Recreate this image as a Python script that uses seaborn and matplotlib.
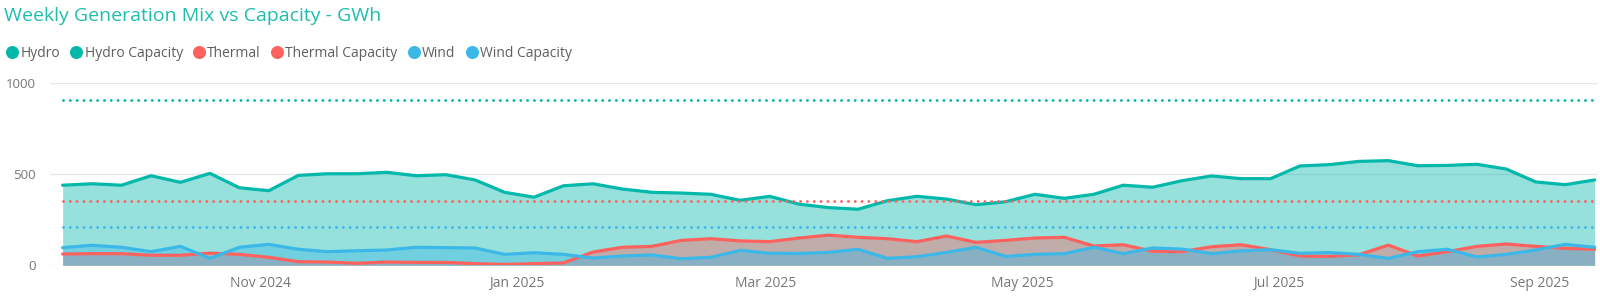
import numpy as np
import pandas as pd
import matplotlib
matplotlib.use("Agg")
import matplotlib.pyplot as plt
import matplotlib.dates as mdates
from matplotlib.lines import Line2D
import seaborn as sns

# ---------------- data ----------------
weeks = pd.date_range("2024-09-15", periods=53, freq="7D")

hydro = [440, 448, 440, 492, 456, 505, 426, 410, 494, 503, 503, 511, 492, 498, 469,
         401, 374, 437, 448, 419, 401, 397, 390, 357, 379, 336, 317, 308, 355, 379,
         364, 333, 349, 390, 368, 390, 440, 429, 465, 491, 476, 476, 546, 553, 571,
         575, 547, 549, 555, 529, 458, 443, 469]
thermal = [62, 64, 64, 55, 55, 67, 60, 44, 20, 18, 11, 18, 16, 16, 9,
           5, 9, 13, 73, 99, 104, 137, 146, 134, 130, 150, 166, 154, 146, 130,
           161, 126, 137, 150, 154, 106, 113, 77, 75, 102, 113, 86, 51, 49, 58,
           111, 51, 75, 104, 117, 104, 93, 88]
wind = [97, 110, 99, 75, 104, 38, 99, 115, 88, 75, 80, 84, 99, 97, 95,
        60, 69, 60, 40, 51, 57, 36, 44, 82, 66, 65, 71, 88, 38, 47,
        71, 99, 49, 60, 64, 99, 64, 95, 89, 64, 79, 86, 66, 70, 60,
        38, 75, 88, 46, 60, 84, 115, 99]
hydro_capacity = 910
thermal_capacity = 352
wind_capacity = 210

series = ["Hydro", "Thermal", "Wind"]
legend_labels = ["Hydro", "Hydro Capacity", "Thermal", "Thermal Capacity", "Wind", "Wind Capacity"]
title = "Weekly Generation Mix vs Capacity - GWh"

# ---------------- style ----------------
colors = {"Hydro": "#01B8AA", "Thermal": "#FD625E", "Wind": "#3CB8E8"}
cap_colors = {"Hydro Capacity": "#01B8AA", "Thermal Capacity": "#FD625E", "Wind Capacity": "#3CB8E8"}

sns.set_theme(style="white")
plt.rcParams["font.family"] = ["Open Sans", "DejaVu Sans"]

gen = pd.DataFrame({"week": np.tile(weeks, 3),
                    "value": hydro + thermal + wind,
                    "series": np.repeat(series, len(weeks))})
cap = pd.DataFrame({"week": np.tile(weeks, 3),
                    "value": [hydro_capacity] * len(weeks) + [thermal_capacity] * len(weeks)
                             + [wind_capacity] * len(weeks),
                    "series": np.repeat(list(cap_colors.keys()), len(weeks))})

W, H = 1600, 296
fig = plt.figure(figsize=(W / 100, H / 100), dpi=100)
ax = fig.add_axes([50 / W, (H - 265.3) / H, (1598 - 50) / W, (265.3 - 83.3) / H])

# areas (overlapping, translucent)
for s, vals in zip(series, [hydro, thermal, wind]):
    ax.fill_between(weeks, 0, vals, color=colors[s], alpha=0.41, lw=0, zorder=1)

# generation lines
sns.lineplot(data=gen, x="week", y="value", hue="series", palette=colors,
             linewidth=2.3, legend=False, ax=ax, zorder=3)
for ln in ax.lines:
    ln.set_solid_joinstyle("round")
n_before = len(ax.lines)
# capacity dotted lines
sns.lineplot(data=cap, x="week", y="value", hue="series", palette=cap_colors,
             linewidth=2.1, legend=False, ax=ax, zorder=4)
for ln in ax.lines[n_before:]:
    ln.set_linestyle((0, (0.01, 2.33)))
    ln.set_dash_capstyle("round")

ax.set_ylim(0, 1000)
ax.set_xlim(weeks[0] - pd.Timedelta(days=3), weeks[-1] + pd.Timedelta(days=0.8))
ax.set_yticks([0, 500, 1000])
ax.xaxis.set_major_locator(mdates.MonthLocator(bymonth=[1, 3, 5, 7, 9, 11]))
ax.xaxis.set_major_formatter(mdates.DateFormatter("%b %Y"))
ax.grid(axis="y", color="#E6E6E6", linewidth=1)
ax.grid(axis="x", visible=False)
ax.set_axisbelow(True)
for sp in ax.spines.values():
    sp.set_visible(False)
ax.set_xlabel("")
ax.set_ylabel("")
ax.tick_params(axis="x", length=0, pad=7.5, labelsize=10, labelcolor="#777777")
ax.tick_params(axis="y", length=0, pad=10, labelsize=9.5, labelcolor="#777777")

# legend
handles = []
for lab in legend_labels:
    c = colors.get(lab, cap_colors.get(lab))
    handles.append(Line2D([], [], marker="o", linestyle="none", markersize=9.4,
                          markerfacecolor=c, markeredgewidth=0))
fig.legend(handles, legend_labels, loc="center left", bbox_to_anchor=(6.7 / W, 1 - 53.5 / H),
           ncol=6, frameon=False, fontsize=10, handlelength=0.8, handletextpad=0.2,
           columnspacing=0.76, borderpad=0, borderaxespad=0, labelcolor="#605E5C")

fig.text(4 / W, 1 - 20.7 / H, title, fontsize=14, color="#1DBDAF", ha="left", va="baseline")

fig.savefig("out.png", dpi=100)
